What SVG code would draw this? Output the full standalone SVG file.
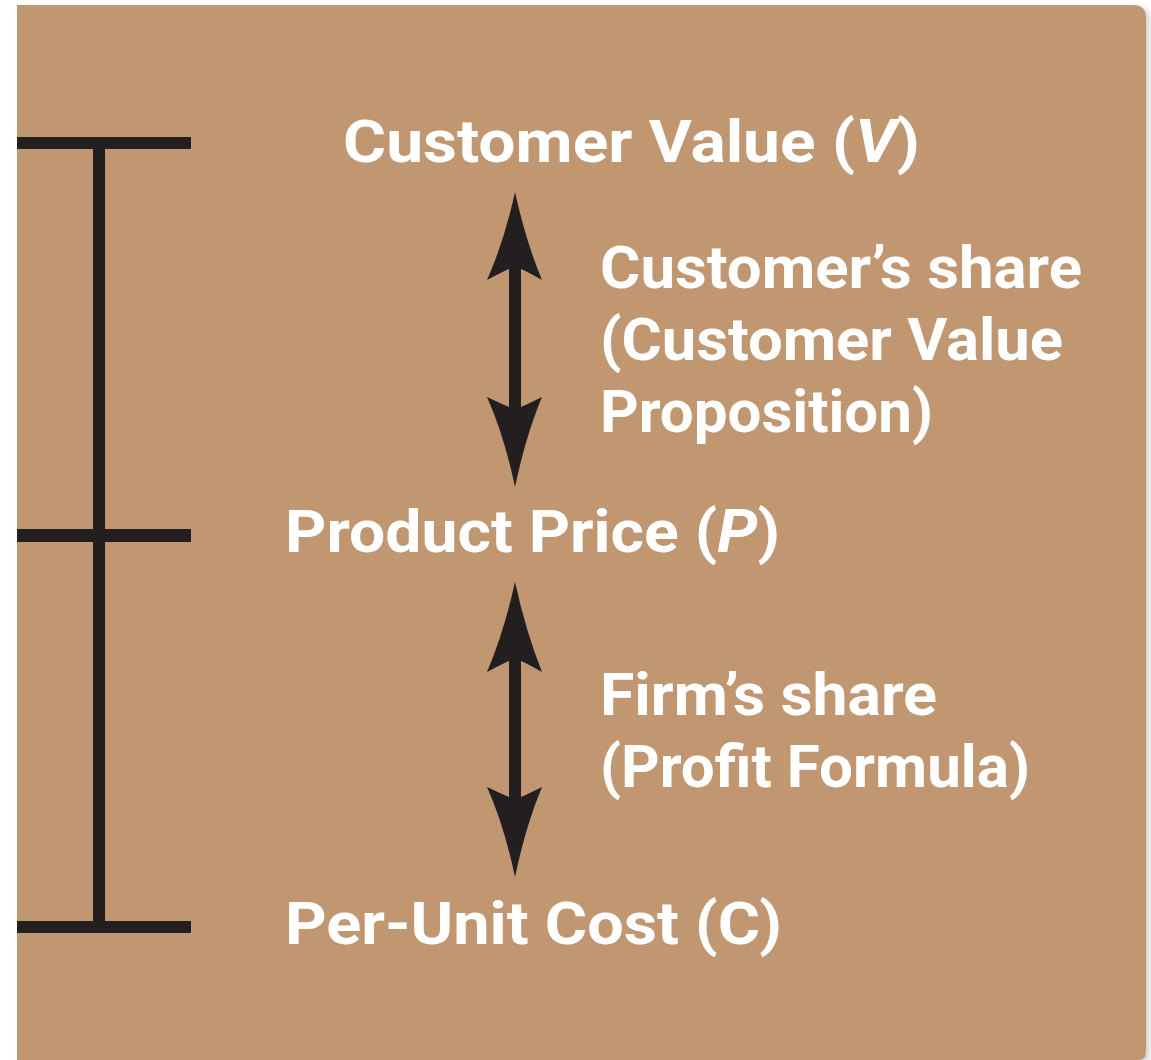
<svg xmlns="http://www.w3.org/2000/svg" width="1151" height="1060" viewBox="0 0 1151 1060">
  <style>
    .label { font-family: Roboto, "Liberation Sans", sans-serif; font-weight: 700; font-size: 60px; fill: #ffffff; }
    .bar { fill: #231f20; }
    .arrow { fill: #231f20; }
  </style>
  <defs>
    <filter id="soft" x="-5%" y="-5%" width="110%" height="110%">
      <feGaussianBlur stdDeviation="2"/>
    </filter>
  </defs>

  <rect width="1151" height="1060" fill="#ffffff"/>

  <!-- panel -->
  <g id="panel">
    <path d="M19 7 H1137 Q1150 7 1150 20 V1056 Q1150 1062 1144 1062 H19 Z" fill="#d8d8d8" filter="url(#soft)"/>
    <path d="M17 5 H1133 Q1146 5 1146 18 V1052 Q1146 1060 1138 1060 H17 Z" fill="#c19771"/>
  </g>

  <!-- scale bracket -->
  <g id="scale">
    <rect class="bar" x="17" y="137" width="174" height="12"/>
    <rect class="bar" x="17" y="529" width="174" height="13"/>
    <rect class="bar" x="17" y="921" width="174" height="12"/>
    <rect class="bar" x="93" y="143" width="12" height="784"/>
  </g>

  <g id="connectors">
    <!-- V to P -->
    <path class="arrow" d="M515 192 Q526 242 542 280 Q528 272 521 269 V407 Q528 404 542 397 Q526 435 515 487 Q504 435 487 397 Q502 404 509 407 V269 Q502 272 487 280 Q504 242 515 192 Z"/>
    <!-- P to C -->
    <path class="arrow" d="M515 582 Q526 632 542 672 Q528 664 521 661 V797 Q528 794 542 787 Q526 825 515 877 Q504 825 487 787 Q502 794 509 797 V661 Q502 664 487 672 Q504 632 515 582 Z"/>
  </g>

  <g id="node-value">
    <text class="label" x="343" y="162" textLength="577" lengthAdjust="spacingAndGlyphs">Customer Value (<tspan font-style="italic">V</tspan>)</text>
  </g>

  <g id="node-price">
    <text class="label" x="285" y="552" textLength="495" lengthAdjust="spacingAndGlyphs">Product Price (<tspan font-style="italic">P</tspan>)</text>
  </g>

  <g id="node-cost">
    <text class="label" x="285" y="944" textLength="497" lengthAdjust="spacingAndGlyphs">Per-Unit Cost (C)</text>
  </g>

  <g id="label-customer-share">
    <text class="label" x="600" y="288" textLength="482" lengthAdjust="spacingAndGlyphs">Customer’s share</text>
    <text class="label" x="600" y="360" textLength="463" lengthAdjust="spacingAndGlyphs">(Customer Value</text>
    <text class="label" x="600" y="432" textLength="333" lengthAdjust="spacingAndGlyphs">Proposition)</text>
  </g>

  <g id="label-firm-share">
    <text class="label" x="600" y="715" textLength="337" lengthAdjust="spacingAndGlyphs">Firm’s share</text>
    <text class="label" x="600" y="787" textLength="430" lengthAdjust="spacingAndGlyphs">(Profit Formula)</text>
  </g>
</svg>
